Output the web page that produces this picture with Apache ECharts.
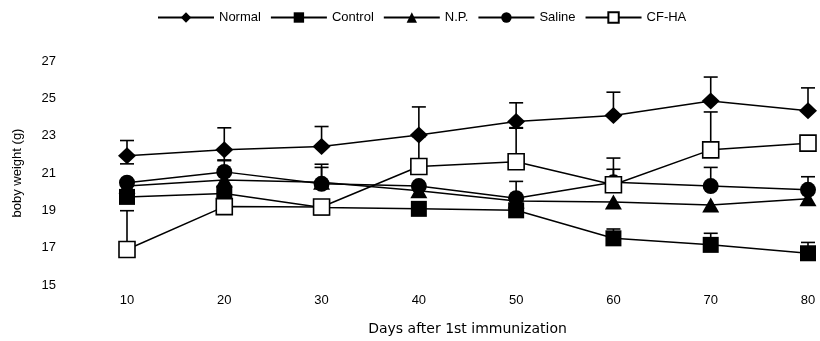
<!DOCTYPE html>
<html>
<head>
<meta charset="utf-8">
<script src="https://cdn.jsdelivr.net/npm/echarts@6/dist/echarts.min.js"></script>
<style>html,body{margin:0;padding:0;background:#fff}#c{width:820px;height:341px}</style>
</head>
<body>
<div id="c"></div>
<script>
const days = [10, 20, 30, 40, 50, 60, 70, 80];
const yTicks = [15, 17, 19, 21, 23, 25, 27];

const normal    = [21.92, 22.24, 22.42, 23.04, 23.76, 24.08, 24.86, 24.33];
const normalUp  = [0.82, 1.18, 1.07, 1.5, 1.0, 1.25, 1.28, 1.23];
const normalDn  = [0.43, 0.54, 0, 0, 0.33, 0, 0, 0];

const control   = [19.72, 19.9, 19.15, 19.08, 19.0, 17.5, 17.15, 16.7];
const controlUp = [0, 0, 0, 0, 0, 0.5, 0.62, 0.58];

const np        = [20.3, 20.62, 20.5, 20.05, 19.5, 19.45, 19.28, 19.62];
const npUp      = [0, 0, 0.8, 0, 0, 0, 0, 0.0];

const saline    = [20.48, 21.06, 20.42, 20.3, 19.65, 20.5, 20.3, 20.1];
const salineUp  = [0, 0.6, 1.05, 0, 0.9, 0.7, 1.0, 0.7];

const cfha      = [16.9, 19.2, 19.18, 21.35, 21.6, 20.37, 22.24, 22.6];
const cfhaUp    = [2.08, 0, 0, 1.6, 1.8, 1.43, 2.03, 0];

const names = ['Normal', 'Control', 'N.P.', 'Saline', 'CF-HA'];

const groups = [
  {name: 'Normal',  vals: normal,  up: normalUp, dn: normalDn, symbol: 'diamond', fill: '#000', size: [18, 17]},
  {name: 'Control', vals: control, up: controlUp, dn: null, symbol: 'rect', fill: '#000', size: [16, 16]},
  {name: 'N.P.',    vals: np,      up: npUp, dn: null, symbol: 'triangle', fill: '#000', size: [17, 15]},
  {name: 'Saline',  vals: saline,  up: salineUp, dn: null, symbol: 'circle', fill: '#000', size: [16, 16]},
  {name: 'CF-HA',   vals: cfha,    up: cfhaUp, dn: null, symbol: 'rect', fill: '#fff', size: [16, 16]}
];

const errData = [];
groups.forEach(g => {
  g.vals.forEach((v, i) => {
    const up = g.up[i] || 0;
    const dn = g.dn ? (g.dn[i] || 0) : 0;
    if (up > 0 || dn > 0) errData.push([days[i], v - dn, v + up, v]);
  });
});

const font = 'Liberation Sans, Arial, sans-serif';

const series = [{
  type: 'custom',
  z: 1,
  silent: true,
  encode: {x: 0, y: [1, 2]},
  data: errData,
  renderItem: function (params, api) {
    const x = api.value(0), lo = api.value(1), hi = api.value(2), m = api.value(3);
    const pl = api.coord([x, lo]), ph = api.coord([x, hi]);
    const ch = [{type: 'line', shape: {x1: pl[0], y1: pl[1], x2: ph[0], y2: ph[1]}, style: {stroke: '#000', lineWidth: 1.6}}];
    if (hi > m) ch.push({type: 'line', shape: {x1: ph[0] - 7, y1: ph[1], x2: ph[0] + 7, y2: ph[1]}, style: {stroke: '#000', lineWidth: 1.6}});
    if (lo < m) ch.push({type: 'line', shape: {x1: pl[0] - 7, y1: pl[1], x2: pl[0] + 7, y2: pl[1]}, style: {stroke: '#000', lineWidth: 1.6}});
    return {type: 'group', children: ch};
  }
}];

groups.forEach((g, k) => {
  series.push({
    name: g.name,
    type: 'line',
    z: 2 + k,
    data: g.vals.map((v, i) => [days[i], v]),
    symbol: g.symbol,
    symbolSize: g.size,
    showAllSymbol: true,
    lineStyle: {color: '#000', width: 1.5},
    itemStyle: {color: g.fill, borderColor: '#000', borderWidth: g.fill === '#fff' ? 1.6 : 0},
    emphasis: {disabled: true},
    animation: false
  });
});

const chart = echarts.init(document.getElementById('c'), null, {renderer: 'canvas'});
chart.setOption({
  animation: false,
  backgroundColor: '#fff',
  legend: {
    data: names,
    top: 6,
    left: 152,
    itemWidth: 56,
    itemHeight: 13,
    itemGap: 9,
    textStyle: {fontFamily: font, fontSize: 13, color: '#000', padding: [0, 0, 0, 0]}
  },
  grid: {left: 127, right: 12, top: 61, bottom: 56},
  xAxis: {
    type: 'value',
    min: 10, max: 80, interval: 10,
    axisLine: {show: false},
    axisTick: {show: false},
    splitLine: {show: false},
    axisLabel: {fontFamily: font, fontSize: 13, color: '#000', margin: 9},
    name: 'Days after 1st immunization',
    nameLocation: 'middle',
    nameGap: 37,
    nameTextStyle: {fontFamily: 'DejaVu Sans, sans-serif', fontSize: 14, color: '#000'}
  },
  yAxis: {
    type: 'value',
    min: 15, max: 27, interval: 2,
    axisLine: {show: false},
    axisTick: {show: false},
    splitLine: {show: false},
    axisLabel: {fontFamily: font, fontSize: 13, color: '#000', margin: 71, align: 'right',
      formatter: v => yTicks.includes(v) ? String(v) : ''},
    name: 'boby weight (g)',
    nameLocation: 'middle',
    nameRotate: 90,
    nameGap: 103,
    nameTextStyle: {fontFamily: font, fontSize: 13, color: '#000'}
  },
  series: series
});
</script>
</body>
</html>
